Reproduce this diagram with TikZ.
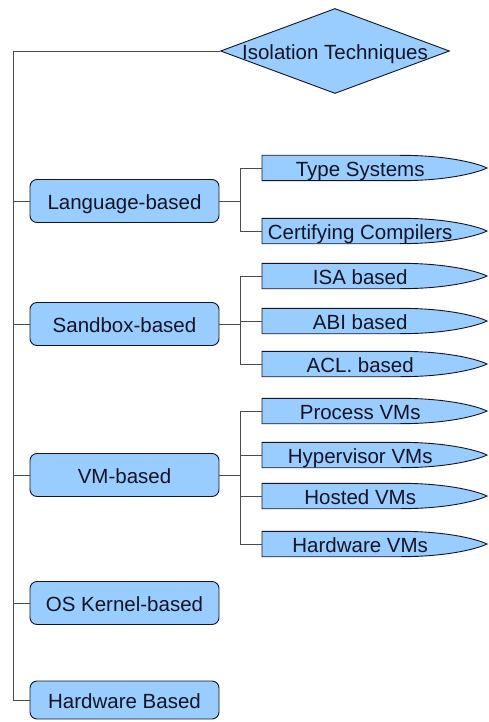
\documentclass[tikz,border=0pt]{standalone}
\usepackage{fontspec}
\setmainfont{Liberation Sans}
\usetikzlibrary{shapes.geometric,backgrounds,calc}

\definecolor{boxblue}{RGB}{153,204,255}
\definecolor{linegray}{RGB}{75,75,75}
\definecolor{inkdark}{RGB}{20,20,40}

\begin{document}
\begin{tikzpicture}[
  x=1pt, y=-1pt,
  every node/.style={font=\fontsize{20.5}{24}\selectfont, text=inkdark, text height=21pt, text depth=4pt},
  root/.style={diamond, draw=inkdark, fill=boxblue, line width=0.9pt, minimum width=229pt, minimum height=85pt, inner sep=0pt},
  cat/.style={draw=inkdark, fill=boxblue, line width=0.9pt, rounded corners=7pt, minimum width=189pt, minimum height=43pt, inner sep=0pt},
  leaf/.style={anchor=west, minimum width=196pt, minimum height=25pt, inner sep=0pt},
  leafshape/.style={draw=inkdark, fill=boxblue, line width=0.9pt},
  link/.style={draw=linegray, line width=0.9pt},
]
  \useasboundingbox (0,0) rectangle (488,722);

  \node[root] (iso) at (335,51) {\makebox[0pt]{Isolation Techniques}};

  \node[cat] (lang) at (124.5,201) {Language-based};
  \node[cat] (sand) at (124.5,324) {Sandbox-based};
  \node[cat] (vm) at (124.5,475) {VM-based};
  \node[cat] (os) at (124.5,603) {OS Kernel-based};
  \node[cat, minimum height=38pt] (hw) at (124.5,700) {Hardware Based};

  \node[leaf] (ts) at (262,168) {Type Systems};
  \node[leaf] (cc) at (262,231) {Certifying Compilers};
  \node[leaf] (isa) at (262,276) {ISA based};
  \node[leaf] (abi) at (262,321) {ABI based};
  \node[leaf] (acl) at (262,364) {ACL. based};
  \node[leaf] (pvm) at (262,411) {Process VMs};
  \node[leaf] (hvm) at (262,455) {Hypervisor VMs};
  \node[leaf] (hos) at (262,496) {Hosted VMs};
  \node[leaf] (hwvm) at (262,544) {Hardware VMs};

  \begin{scope}[on background layer]
    \foreach \n in {ts,cc,isa,abi,acl,pvm,hvm,hos,hwvm}
      \path[leafshape] (\n.south west) -- (\n.north west) -- ($(\n.north west)+(138,0)$)
        .. controls ($(\n.north west)+(188,0)$) and ($(\n.west)+(217,-4)$) .. ($(\n.west)+(225,0)$)
        .. controls ($(\n.west)+(217,4)$) and ($(\n.south west)+(188,0)$) .. ($(\n.south west)+(138,0)$) -- cycle;
  \end{scope}

  \coordinate (corner) at (13,51);
  \draw[link] (iso.west) -- (corner) |- (hw.west);
  \foreach \c in {lang,sand,vm,os}
    \draw[link] (corner) |- (\c.west);
  \foreach \c in {ts,cc}
    \draw[link] (lang.east) -- ++(21,0) |- (\c.west);
  \foreach \c in {isa,abi,acl}
    \draw[link] (sand.east) -- ++(21,0) |- (\c.west);
  \foreach \c in {pvm,hvm,hos,hwvm}
    \draw[link] (vm.east) -- ++(21,0) |- (\c.west);
\end{tikzpicture}
\end{document}
